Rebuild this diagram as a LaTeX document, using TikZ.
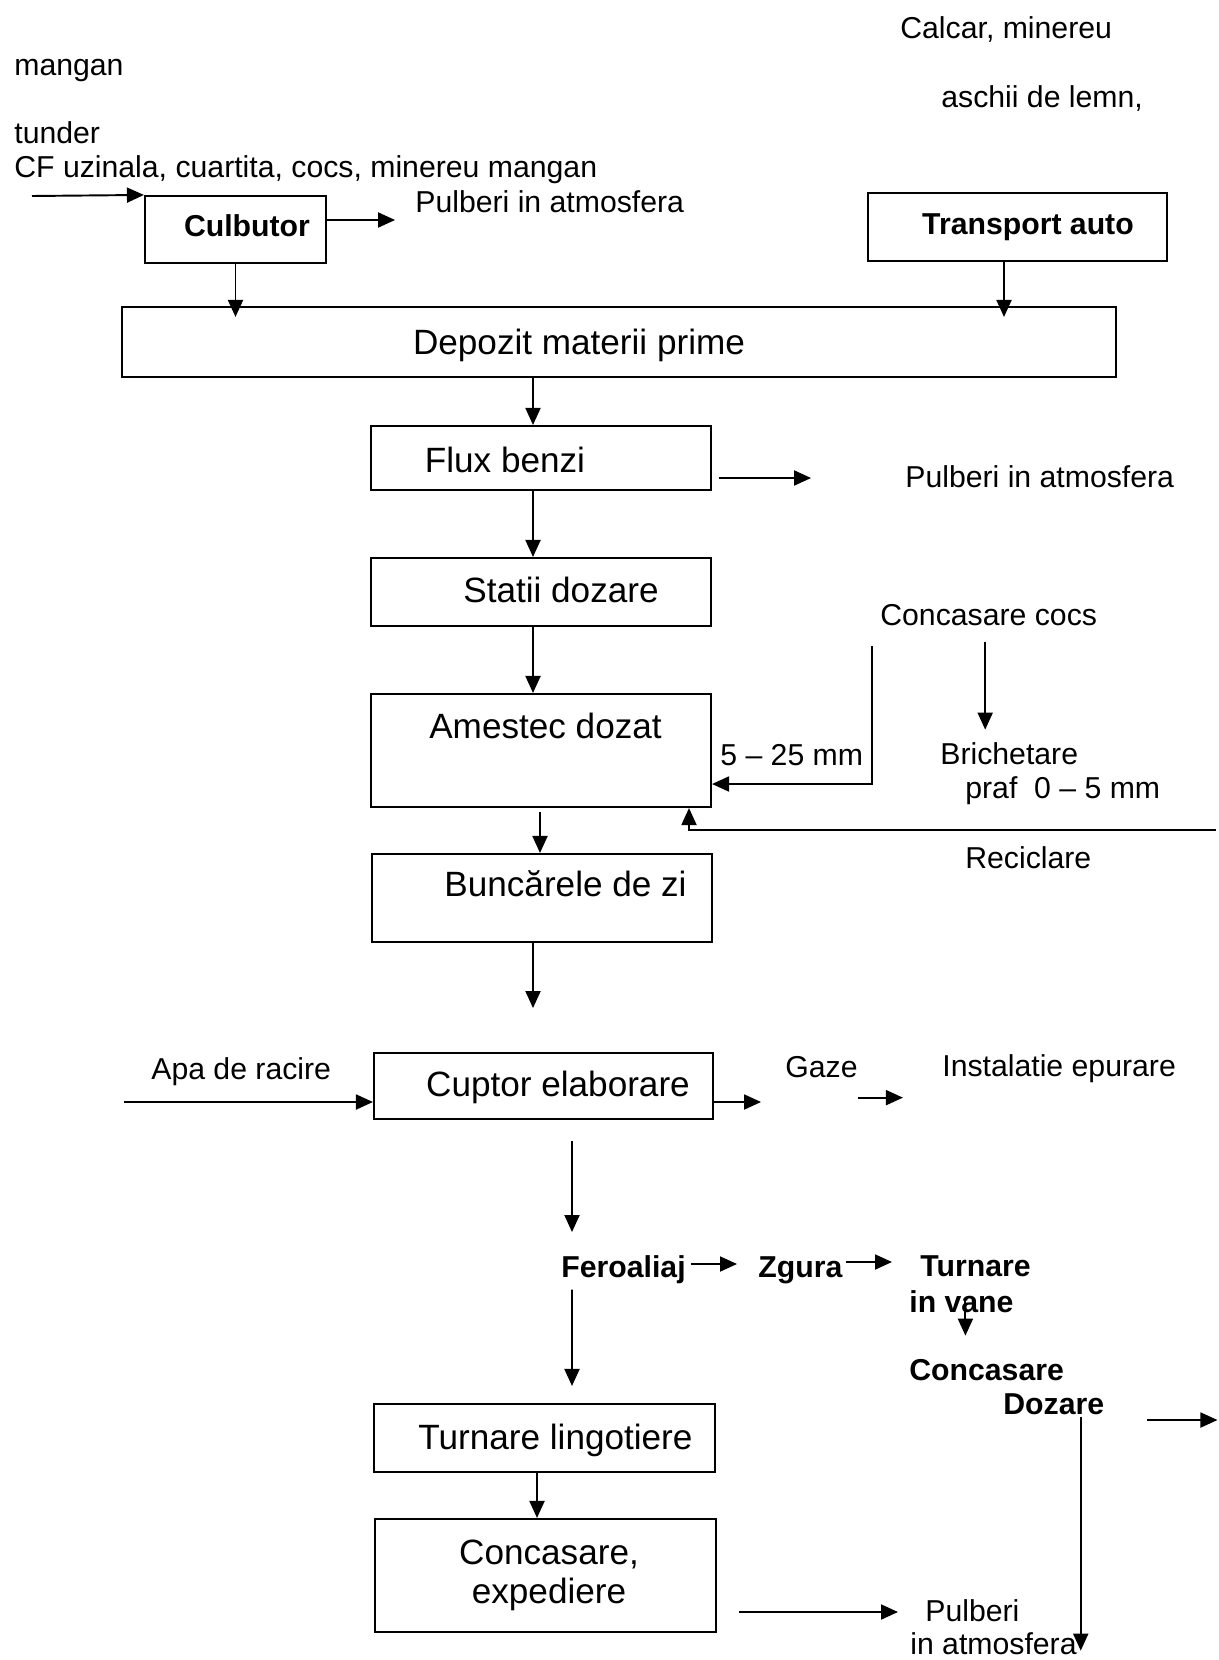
\documentclass[tikz,border=0pt]{standalone}
\usepackage{fontspec}
\setmainfont{Liberation Sans}
\usetikzlibrary{arrows.meta}

\tikzset{
  box/.style={draw, line width=1.2pt, inner sep=0pt},
  sz/.style 2 args={minimum width=#1*0.02cm, minimum height=#2*0.02cm},
  intxt/.style={inner sep=0pt, align=center, font=\fontsize{20}{22.2}\selectfont},
  intxtb/.style={inner sep=0pt, font=\fontsize{17.2}{20}\selectfont\bfseries},
  lbl/.style={inner sep=0pt, anchor=west, text height=1.12em, text depth=0.05em, font=\fontsize{17.2}{20}\selectfont},
  blbl/.style={lbl, font=\fontsize{17.2}{20}\selectfont\bfseries},
  arr/.style={line width=1.1pt, -{Triangle[length=3.4mm, width=3mm]}}
}

\begin{document}
\begin{tikzpicture}[x=0.02cm, y=-0.02cm]

\useasboundingbox (0,0) rectangle (1219,1660);

\node[lbl] (calcar) at (900,29) {Calcar, minereu};
\node[lbl] (mangan) at (14,66) {mangan};
\node[lbl] (aschii) at (941,98) {aschii de lemn,};
\node[lbl] (tunder) at (14,134) {tunder};
\node[lbl] (cf) at (14,168) {CF uzinala, cuartita, cocs, minereu mangan};
\node[lbl] (pulb1) at (415,203) {Pulberi in atmosfera};
\node[lbl] (pulb2) at (905,478) {Pulberi in atmosfera};
\node[lbl] (concoc) at (880,616) {Concasare cocs};
\node[lbl] (mm) at (720,756) {5 -- 25 mm};
\node[lbl] (brich) at (940,755) {Brichetare};
\node[lbl] (praf) at (965,789) {praf\ \ 0 -- 5 mm};
\node[lbl] (recic) at (965,859) {Reciclare};
\node[lbl] (apa) at (151,1070) {Apa de racire};
\node[lbl] (gaze) at (785,1068) {Gaze};
\node[lbl] (instal) at (942,1067) {Instalatie epurare};
\node[blbl] (ferro) at (561,1268) {Feroaliaj};
\node[blbl] (zgura) at (758,1268) {Zgura};
\node[blbl] (turnare) at (920,1267) {Turnare};
\node[blbl] (invane) at (909,1303) {in vane};
\node[blbl] (concas) at (909,1371) {Concasare};
\node[blbl] (dozare) at (1003,1405) {Dozare};
\node[lbl] (pulb3a) at (925,1612) {Pulberi};
\node[lbl] (pulb3b) at (910,1645) {in atmosfera};

\node[box, sz={181}{67}, label={[intxtb, shift={(11.5,-3.5)}]center:Culbutor}] (culb) at (235.5,229.5) {};
\node[box, sz={299}{68}, label={[intxtb, shift={(10.5,0)}]center:Transport auto}] (transp) at (1017.5,227) {};
\node[box, sz={994}{70}, label={[intxt, shift={(-40,3)}]center:Depozit materii prime}] (depoz) at (619,342) {};
\node[box, sz={340}{64}, label={[intxt, shift={(-36,2)}]center:Flux benzi}] (flux) at (541,458) {};
\node[box, sz={340}{68}, label={[intxt, shift={(20,-2)}]center:Statii dozare}] (statii) at (541,592) {};
\node[box, sz={340}{113}, label={[intxt, shift={(4.5,-25)}]center:Amestec dozat}] (amest) at (541,750.5) {};
\node[box, sz={340}{88}, label={[intxt, shift={(23.5,-14)}]center:Buncărele de zi}] (bunc) at (542,898) {};
\node[box, sz={339}{66}, label={[intxt, shift={(14.5,1.5)}]center:Cuptor elaborare}] (cupt) at (543.5,1086) {};
\node[box, sz={341}{68}, label={[intxt, shift={(11,2)}]center:Turnare lingotiere}] (turnl) at (544.5,1438) {};
\node[box, sz={341}{113}, label={[intxt, shift={(3.5,0)}]center:Concasare,\\expediere}] (conce) at (545.5,1575.5) {};

\coordinate (cfin) at (32,196);
\coordinate (ccin) at (872,646);
\coordinate (recin) at (1216,830);
\coordinate (apin) at (124,1102);

\draw[arr] (cfin) -- (culb.north west);
\draw[arr] ([shift={(0,-9.5)}]culb.east) -- ++(68,0);
\draw[arr] (culb.south) -- ([shift={(0,11)}]culb.south |- depoz.north);
\draw[arr] ([shift={(-13.5,0)}]transp.south) -- ([shift={(-13.5,11)}]transp.south |- depoz.north);

\draw[arr] ([shift={(-8,0)}]flux.north |- depoz.south) -- ([shift={(-8,0)}]flux.north);
\draw[arr] ([shift={(7,20)}]flux.east) -- ++(92,0);
\draw[arr] ([shift={(-8,0)}]flux.south) -- ([shift={(-8,0)}]statii.north);
\draw[arr] ([shift={(-8,0)}]statii.south) -- ([shift={(-8,0)}]amest.north);

\draw[arr] (ccin) |- ([shift={(0,33.5)}]amest.east);
\draw[arr] ([shift={(-3.5,15)}]concoc.south) -- ++(0,88);
\draw[arr] (recin) -| ([shift={(148,0)}]amest.south);

\draw[arr] ([shift={(-1,4)}]amest.south) -- ([shift={(-2,0)}]bunc.north);
\draw[arr] ([shift={(-9,0)}]bunc.south) -- ++(0,65);

\draw[arr] (apin) -- ([shift={(0,16)}]cupt.west);
\draw[arr] ([shift={(0,16)}]cupt.east) -- ++(47,0);
\draw[arr] ([shift={(0,19)}]gaze.south east) -- ++(45,0);
\draw[arr] ([shift={(28.5,21)}]cupt.south) -- ++(0,91);

\draw[arr] ([shift={(5,-4)}]ferro.east) -- ([shift={(-21,-4)}]zgura.west);
\draw[arr] ([shift={(3,-6)}]zgura.east) -- ([shift={(-28,-5)}]turnare.west);
\draw[arr] ([shift={(4,-16)}]invane.south) -- ++(0,38);
\draw[arr] ([shift={(43,15)}]dozare.east) -- ++(70,0);
\draw[arr] ([shift={(27,1)}]dozare.south) -- ++(0,234);

\draw[arr] ([shift={(11,11)}]ferro.south west) -- ([shift={(27.5,-17)}]turnl.north);
\draw[arr] ([shift={(-7.5,0)}]turnl.south) -- ([shift={(-8.5,0)}]conce.north);
\draw[arr] ([shift={(22,36.5)}]conce.east) -- ([shift={(-27,0)}]pulb3a.west);
\end{tikzpicture}
\end{document}
